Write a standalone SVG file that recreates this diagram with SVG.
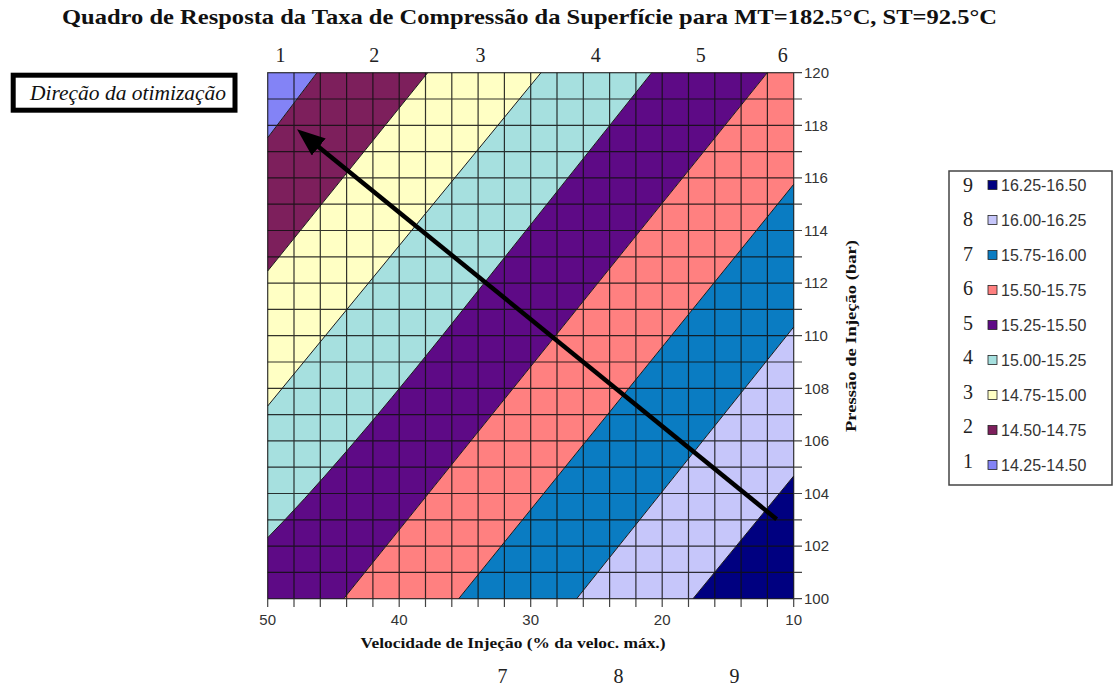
<svg xmlns="http://www.w3.org/2000/svg" width="1119" height="686" viewBox="0 0 1119 686">
<style>
.title{font-family:"Liberation Serif","Times New Roman",serif;font-weight:bold;font-size:22px;fill:#111}
.axt{font-family:"Liberation Serif","Times New Roman",serif;font-weight:bold;font-size:15px;fill:#111}
.num{font-family:"Liberation Serif","Times New Roman",serif;font-size:20px;fill:#222}
.note{font-family:"Liberation Serif","Times New Roman",serif;font-style:italic;font-size:20px;fill:#111}
.tk{font-family:"Liberation Sans",Arial,sans-serif;font-size:15px;fill:#333}
.leg{font-family:"Liberation Sans",Arial,sans-serif;font-size:16px;fill:#333}
.grid{fill:none;stroke:#111;stroke-width:1.2;stroke-opacity:0.85}
.ticks{fill:none;stroke:#444;stroke-width:1.2}
.contour{fill:none;stroke:#1a1a1a;stroke-width:1}
.sw{stroke:#222;stroke-width:0.8}
.c1{fill:#8383F6}.c2{fill:#7D1F5C}.c3{fill:#FFFFC4}.c4{fill:#A6E0DF}.c5{fill:#5E0A86}
.c6{fill:#FF8080}.c7{fill:#0A7CC2}.c8{fill:#C6C6FA}.c9{fill:#000080}
</style>
<defs>
<marker id="ah" markerUnits="userSpaceOnUse" markerWidth="28" markerHeight="22" viewBox="0 -11 28 22" refX="6" refY="0" orient="auto">
<path d="M0,-11 L28,0 L0,11 Z" fill="#000"/>
</marker>
</defs>
<rect width="1119" height="686" fill="#fff"/>

<g id="title">
<text class="title" x="529.5" y="24" text-anchor="middle" textLength="935" lengthAdjust="spacingAndGlyphs">Quadro de Resposta da Taxa de Compressão da Superfície para MT=182.5°C, ST=92.5°C</text>
</g>

<g id="note-box">
<rect x="13.2" y="75.2" width="221.8" height="35" fill="#fff" stroke="#000" stroke-width="5"/>
<text class="note" x="30" y="99.5" textLength="196" lengthAdjust="spacingAndGlyphs">Direção da otimização</text>
</g>

<g id="bands">
<path class="c1" d="M267.7,72.7 H317 L267.7,137.7 Z"/>
<path class="c2" d="M317,72.7 H427.7 L267.7,271 V137.7 Z"/>
<path class="c3" d="M427.7,72.7 H541 L267.7,406 V271 Z"/>
<path class="c4" d="M541,72.7 H651.7 L442,336 Q337,467 267.7,537.7 V406 Z"/>
<path class="c5" d="M651.7,72.7 H767.3 L343.7,598.7 H267.7 V537.7 Q337,467 442,336 Z"/>
<path class="c6" d="M767.3,72.7 H793.7 V184.3 L458.7,598.7 H343.7 Z"/>
<path class="c7" d="M793.7,184.3 V327 L576.7,598.7 H458.7 Z"/>
<path class="c8" d="M793.7,327 V476 L693,598.7 H576.7 Z"/>
<path class="c9" d="M793.7,476 V598.7 H693 Z"/>
</g>

<g id="grid">
<path class="grid" d="M294,72.7V598.7M320.3,72.7V598.7M346.6,72.7V598.7M372.9,72.7V598.7M399.2,72.7V598.7M425.5,72.7V598.7M451.8,72.7V598.7M478.1,72.7V598.7M504.4,72.7V598.7M530.7,72.7V598.7M557,72.7V598.7M583.3,72.7V598.7M609.6,72.7V598.7M635.9,72.7V598.7M662.2,72.7V598.7M688.5,72.7V598.7M714.8,72.7V598.7M741.1,72.7V598.7M767.4,72.7V598.7
M267.7,99H793.7M267.7,125.3H793.7M267.7,151.6H793.7M267.7,177.9H793.7M267.7,204.2H793.7M267.7,230.5H793.7M267.7,256.8H793.7M267.7,283.1H793.7M267.7,309.4H793.7M267.7,335.7H793.7M267.7,362H793.7M267.7,388.3H793.7M267.7,414.6H793.7M267.7,440.9H793.7M267.7,467.2H793.7M267.7,493.5H793.7M267.7,519.8H793.7M267.7,546.1H793.7M267.7,572.4H793.7"/>
<rect class="grid" x="267.7" y="72.7" width="526" height="526"/>
</g>

<g id="contours">
<path class="contour" d="M317,72.7 L267.7,137.7"/>
<path class="contour" d="M427.7,72.7 L267.7,271"/>
<path class="contour" d="M541,72.7 L267.7,406"/>
<path class="contour" d="M651.7,72.7 L442,336 Q337,467 267.7,537.7"/>
<path class="contour" d="M767.3,72.7 L343.7,598.7"/>
<path class="contour" d="M793.7,184.3 L458.7,598.7"/>
<path class="contour" d="M793.7,327 L576.7,598.7"/>
<path class="contour" d="M793.7,476 L693,598.7"/>
</g>

<g id="axes">
<path class="ticks" d="M793.7,72.7H802M793.7,99H802M793.7,125.3H802M793.7,151.6H802M793.7,177.9H802M793.7,204.2H802M793.7,230.5H802M793.7,256.8H802M793.7,283.1H802M793.7,309.4H802M793.7,335.7H802M793.7,362H802M793.7,388.3H802M793.7,414.6H802M793.7,440.9H802M793.7,467.2H802M793.7,493.5H802M793.7,519.8H802M793.7,546.1H802M793.7,572.4H802M793.7,598.7H802
M267.7,598.7V607M294,598.7V607M320.3,598.7V607M346.6,598.7V607M372.9,598.7V607M399.2,598.7V607M425.5,598.7V607M451.8,598.7V607M478.1,598.7V607M504.4,598.7V607M530.7,598.7V607M557,598.7V607M583.3,598.7V607M609.6,598.7V607M635.9,598.7V607M662.2,598.7V607M688.5,598.7V607M714.8,598.7V607M741.1,598.7V607M767.4,598.7V607M793.7,598.7V607"/>
<text class="tk" x="804" y="78">120</text>
<text class="tk" x="804" y="130.6">118</text>
<text class="tk" x="804" y="183.2">116</text>
<text class="tk" x="804" y="235.8">114</text>
<text class="tk" x="804" y="288.4">112</text>
<text class="tk" x="804" y="341">110</text>
<text class="tk" x="804" y="393.6">108</text>
<text class="tk" x="804" y="446.2">106</text>
<text class="tk" x="804" y="498.8">104</text>
<text class="tk" x="804" y="551.4">102</text>
<text class="tk" x="804" y="604">100</text>
<text class="tk" x="267.7" y="625" text-anchor="middle">50</text>
<text class="tk" x="399.2" y="625" text-anchor="middle">40</text>
<text class="tk" x="530.7" y="625" text-anchor="middle">30</text>
<text class="tk" x="662.2" y="625" text-anchor="middle">20</text>
<text class="tk" x="793.7" y="625" text-anchor="middle">10</text>
<text class="axt" x="513" y="648" text-anchor="middle" textLength="305" lengthAdjust="spacingAndGlyphs">Velocidade de Injeção (% da veloc. máx.)</text>
<text class="axt" transform="translate(856,336) rotate(-90)" text-anchor="middle" textLength="192" lengthAdjust="spacingAndGlyphs">Pressão de Injeção (bar)</text>
</g>

<g id="band-numbers">
<text class="num" x="280.4" y="62" text-anchor="middle">1</text>
<text class="num" x="374.3" y="62" text-anchor="middle">2</text>
<text class="num" x="480.4" y="62" text-anchor="middle">3</text>
<text class="num" x="595.7" y="62" text-anchor="middle">4</text>
<text class="num" x="700.8" y="62" text-anchor="middle">5</text>
<text class="num" x="782.8" y="62" text-anchor="middle">6</text>
<text class="num" x="502.5" y="683" text-anchor="middle">7</text>
<text class="num" x="618.4" y="683" text-anchor="middle">8</text>
<text class="num" x="734.4" y="683" text-anchor="middle">9</text>
</g>

<g id="connectors">
<path d="M776.7,519.3 L314.1,143.2" fill="none" stroke="#000" stroke-width="4.5" marker-end="url(#ah)"/>
</g>

<g id="legend">
<rect x="949" y="171" width="163" height="314" fill="#fff" stroke="#444" stroke-width="1.5"/>
<g id="leg-9"><text class="num" x="968" y="191.5" text-anchor="middle">9</text><rect class="sw c9" x="988" y="180.5" width="9" height="9"/><text class="leg" x="1001" y="190.7">16.25-16.50</text></g>
<g id="leg-8"><text class="num" x="968" y="226" text-anchor="middle">8</text><rect class="sw c8" x="988" y="215.5" width="9" height="9"/><text class="leg" x="1001" y="225.7">16.00-16.25</text></g>
<g id="leg-7"><text class="num" x="968" y="260.5" text-anchor="middle">7</text><rect class="sw c7" x="988" y="250.5" width="9" height="9"/><text class="leg" x="1001" y="260.7">15.75-16.00</text></g>
<g id="leg-6"><text class="num" x="968" y="295" text-anchor="middle">6</text><rect class="sw c6" x="988" y="285.5" width="9" height="9"/><text class="leg" x="1001" y="295.7">15.50-15.75</text></g>
<g id="leg-5"><text class="num" x="968" y="329.5" text-anchor="middle">5</text><rect class="sw c5" x="988" y="320.5" width="9" height="9"/><text class="leg" x="1001" y="330.7">15.25-15.50</text></g>
<g id="leg-4"><text class="num" x="968" y="364" text-anchor="middle">4</text><rect class="sw c4" x="988" y="355.5" width="9" height="9"/><text class="leg" x="1001" y="365.7">15.00-15.25</text></g>
<g id="leg-3"><text class="num" x="968" y="398.5" text-anchor="middle">3</text><rect class="sw c3" x="988" y="390.5" width="9" height="9"/><text class="leg" x="1001" y="400.7">14.75-15.00</text></g>
<g id="leg-2"><text class="num" x="968" y="433" text-anchor="middle">2</text><rect class="sw c2" x="988" y="425.5" width="9" height="9"/><text class="leg" x="1001" y="435.7">14.50-14.75</text></g>
<g id="leg-1"><text class="num" x="968" y="467.5" text-anchor="middle">1</text><rect class="sw c1" x="988" y="460.5" width="9" height="9"/><text class="leg" x="1001" y="470.7">14.25-14.50</text></g>
</g>
</svg>
